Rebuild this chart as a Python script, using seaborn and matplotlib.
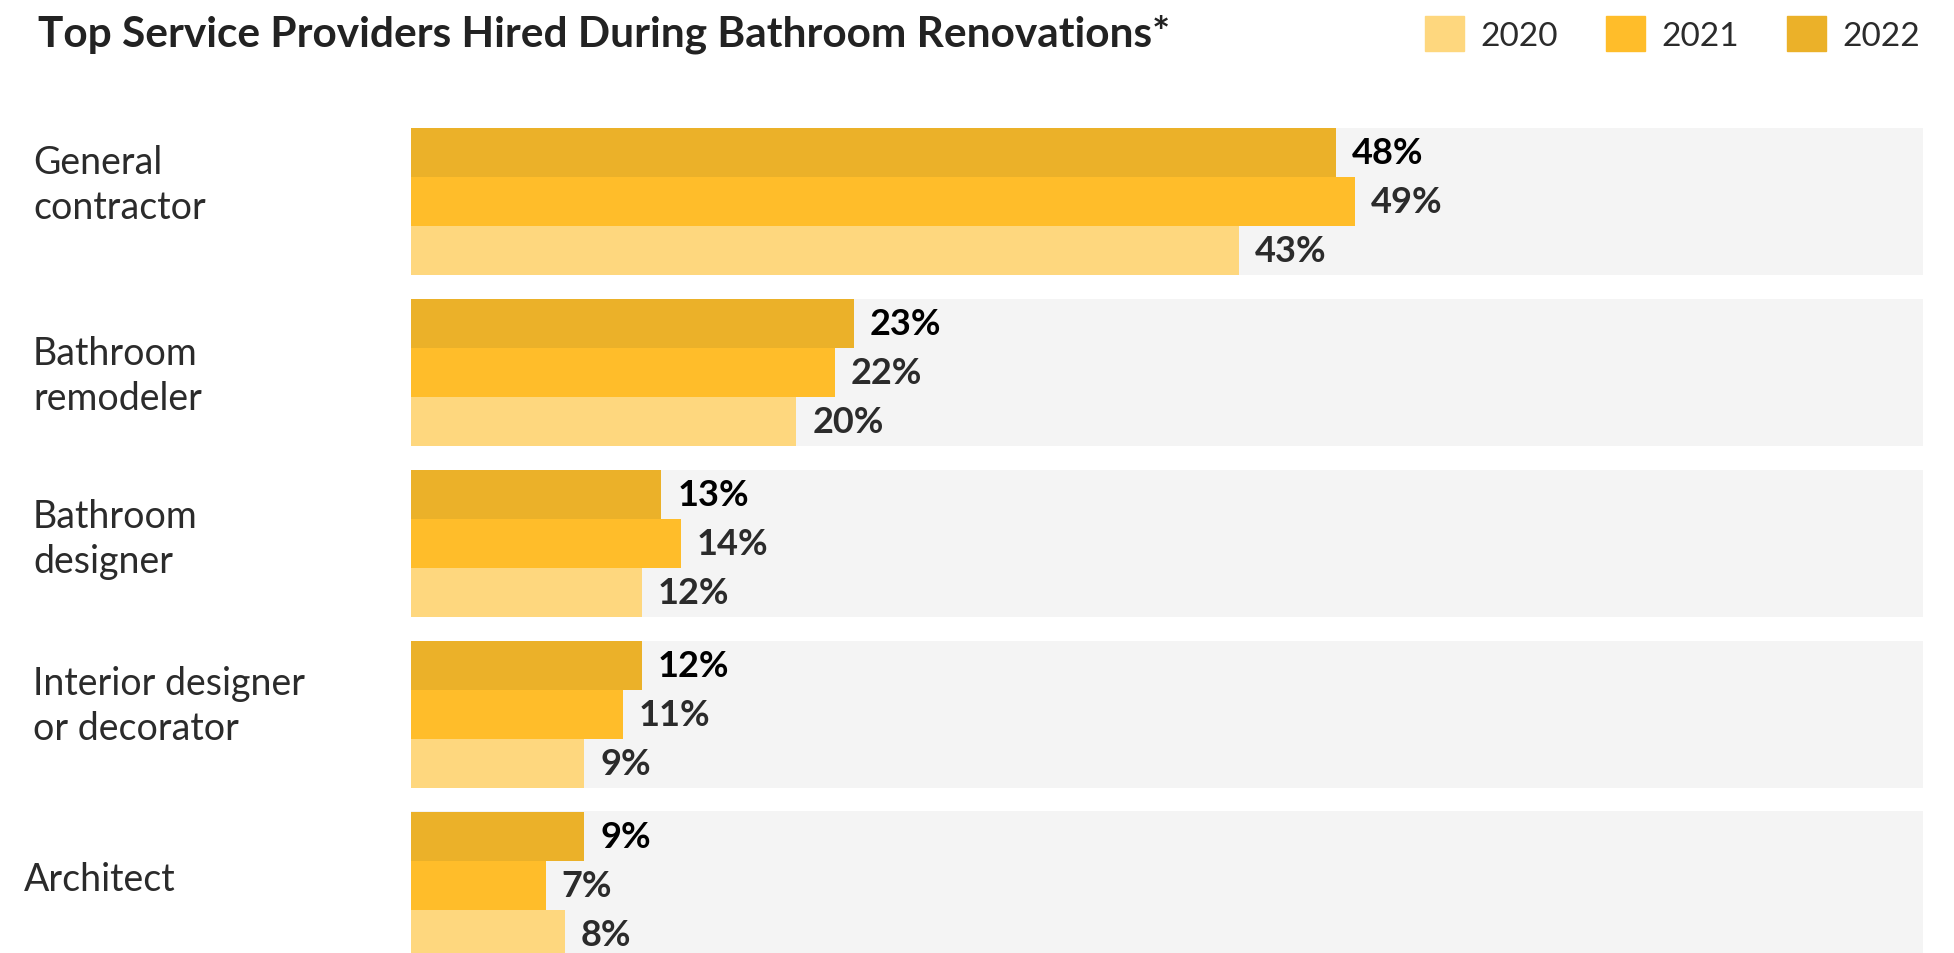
import numpy as np
import pandas as pd
import seaborn as sns
import matplotlib.pyplot as plt
import matplotlib.transforms as mtransforms
from matplotlib.patches import Patch

# data
providers = ['General\ncontractor', 'Bathroom\nremodeler', 'Bathroom\ndesigner',
             'Interior designer\nor decorator', 'Architect']
share_2020 = [43, 20, 12, 9, 8]
share_2021 = [49, 22, 14, 11, 7]
share_2022 = [48, 23, 13, 12, 9]
years = ['2020', '2021', '2022']
colors = {'2020': '#FED77E', '2021': '#FFBD2A', '2022': '#EBB129'}

df = pd.DataFrame({
    'provider': providers * 3,
    'year': ['2020'] * 5 + ['2021'] * 5 + ['2022'] * 5,
    'share': share_2020 + share_2021 + share_2022,
})

sns.set_theme(style='white')
plt.rcParams['font.family'] = ['Lato', 'DejaVu Sans']

W, H = 1954, 954
fig = plt.figure(figsize=(W / 100, H / 100), dpi=100)
ax = fig.add_axes([411 / W, 0, 1512 / W, 1])

xmax = 78.5
# grey bands behind each group
ax.barh(np.arange(len(providers)), xmax, height=0.864, color='#F4F4F4', lw=0, zorder=0)

sns.barplot(data=df, y='provider', x='share', hue='year', hue_order=['2022', '2021', '2020'],
            palette=colors, saturation=1, width=0.858, gap=0, orient='h', linewidth=0,
            legend=False, ax=ax, zorder=2)

ax.set_xlim(0, xmax)
ax.set_ylim(4.396, -1.185)
ax.set(xlabel=None, ylabel=None, xticks=[], yticks=[])
sns.despine(ax=ax, left=True, bottom=True)

# value labels
lab_colors = ['#000000', '#2b2b2b', '#2b2b2b']
for cont, c in zip(ax.containers[1:], lab_colors):
    ax.bar_label(cont, fmt='{:.0f}%', padding=11.5, fontsize=26, fontweight='bold',
                 color=c, zorder=3)

# category labels (hand placed in the original)
trans = mtransforms.blended_transform_factory(fig.transFigure, ax.transData)
y_nudge = [-0.10, 0.02, -0.03, -0.05, -0.035]
x_pos = [33, 33, 33, 33, 24]
for i, p in enumerate(providers):
    ax.text(x_pos[i] / W, i + y_nudge[i], p, transform=trans, ha='left', va='center',
            fontsize=27, color='#2b2b2b', linespacing=1.31)

fig.text(38 / W, 1 - 34 / H, 'Top Service Providers Hired During Bathroom Renovations*',
         fontsize=30.5, fontweight='bold', color='#222222', va='center')

handles = [Patch(color=colors[y], label=y) for y in years]
fig.legend(handles=handles, loc='upper right', bbox_to_anchor=(1920 / W, 1 - 17 / H),
           ncol=3, frameon=False, fontsize=24, handlelength=1.15, handleheight=1.25,
           handletextpad=0.5, columnspacing=1.45, borderpad=0, borderaxespad=0,
           labelcolor='#2b2b2b')

fig.savefig('out.png', dpi=100, facecolor='white')
